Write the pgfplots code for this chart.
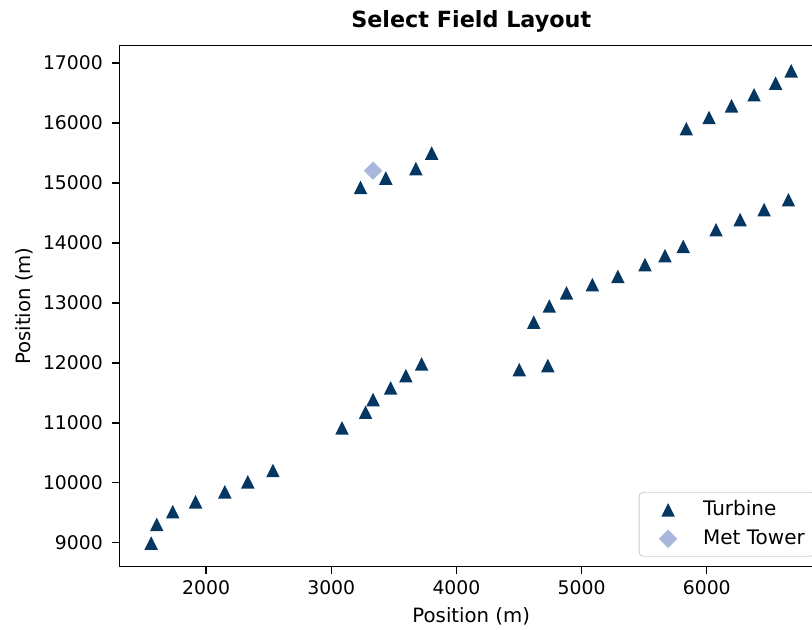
\documentclass[border=0pt]{standalone}
\usepackage{pgfplots}
\pgfplotsset{compat=1.18}
\usepackage{fontspec}
\setmainfont{DejaVu Sans}

\definecolor{turbine}{RGB}{6,55,99}
\definecolor{mettower}{RGB}{169,183,221}

% isosceles triangle, as wide as it is tall, centred on its bounding box
\pgfdeclareplotmark{tri}{%
  \pgfpathmoveto{\pgfqpoint{0pt}{\pgfplotmarksize}}%
  \pgfpathlineto{\pgfqpoint{-\pgfplotmarksize}{-\pgfplotmarksize}}%
  \pgfpathlineto{\pgfqpoint{\pgfplotmarksize}{-\pgfplotmarksize}}%
  \pgfpathclose\pgfusepathqfill}
% square diamond
\pgfdeclareplotmark{dmd}{%
  \pgfpathmoveto{\pgfqpoint{0pt}{\pgfplotmarksize}}%
  \pgfpathlineto{\pgfqpoint{\pgfplotmarksize}{0pt}}%
  \pgfpathlineto{\pgfqpoint{0pt}{-\pgfplotmarksize}}%
  \pgfpathlineto{\pgfqpoint{-\pgfplotmarksize}{0pt}}%
  \pgfpathclose\pgfusepathqfill}

\pgfplotstableread{
x y
1562 8995
1606 9305
1734 9517
1916 9683
2150 9850
2334 10017
2534 10205
3086 10917
3274 11177
3334 11388
3474 11583
3596 11788
3722 11983
4502 11888
4730 11955
4618 12680
4742 12950
4879 13167
5086 13305
5290 13443
5506 13638
5666 13788
5812 13943
6074 14222
6266 14388
6458 14555
6652 14722
5836 15905
6018 16093
6198 16288
6378 16472
6550 16667
6674 16872
3234 14927
3436 15083
3676 15238
3802 15500
}\turbines

\pgfplotstableread{
x y
3334 15205
}\mettower

\begin{document}
\begin{tikzpicture}
\clip (0,0) rectangle (406pt,314.5pt);
\begin{axis}[
  at={(59.65pt,31.15pt)}, anchor=south west,
  scale only axis, width=351.95pt, height=260.5pt,
  xmin=1307, xmax=6930, ymin=8600, ymax=17290,
  xtick={2000,3000,4000,5000,6000},
  ytick={9000,10000,...,17000},
  tick pos=left,
  tick align=outside,
  major tick length=3.5pt,
  axis line style={line width=0.7pt},
  tick style={line width=0.7pt, black},
  scaled ticks=false,
  /pgf/number format/1000 sep={},
  /pgf/number format/assume math mode=true,
  tick label style={font=\fontsize{9.4pt}{11pt}\selectfont},
  yticklabel style={xshift=-1.2pt},
  title={Select Field Layout},
  title style={at={(axis description cs:0.5,1)}, anchor=base, yshift=3pt,
    font=\bfseries\fontsize{11.15pt}{13pt}\selectfont},
  xlabel={Position (m)},
  ylabel={Position (m)},
  xlabel style={at={(axis description cs:0.5,0)}, anchor=base, yshift=-27.8pt,
    font=\fontsize{9.85pt}{11pt}\selectfont},
  ylabel style={at={([xshift=-44.65pt]axis description cs:0,0.5)}, anchor=base,
    font=\fontsize{9.85pt}{11pt}\selectfont},
  legend cell align=left,
  legend image code/.code={%
    \path[draw=none, fill=none] (-12pt,-7.25pt) rectangle (15pt,7.25pt);
    \draw[#1] plot coordinates {(0pt,0pt)};},
  legend style={at={(1,0)}, anchor=south east, xshift=-4pt, yshift=5pt,
    draw=black!20, rounded corners=2pt, fill=white,
    inner xsep=2.5pt, inner ysep=1.5pt, row sep=0pt,
    font=\fontsize{10pt}{11pt}\selectfont,
    nodes={inner xsep=2.5pt, inner ysep=0pt}},
]
\addplot[only marks, mark=tri, mark size=3.375pt, color=turbine] table {\turbines};
\addlegendentry{Turbine}
\addplot[only marks, mark=dmd, mark size=4.6pt, color=mettower] table {\mettower};
\addlegendentry{Met Tower}
\end{axis}
\end{tikzpicture}
\end{document}
